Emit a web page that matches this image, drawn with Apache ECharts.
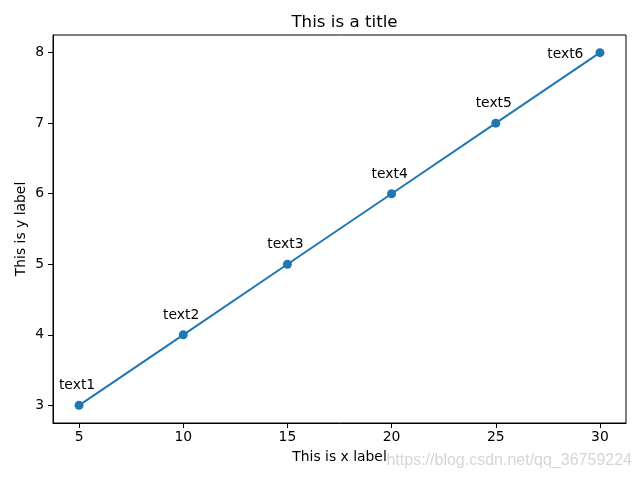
<!DOCTYPE html>
<html>
<head>
<meta charset="utf-8">
<script src="https://cdn.jsdelivr.net/npm/echarts@6/dist/echarts.min.js"></script>
<style>html,body{margin:0;padding:0;background:#fff}#c{width:640px;height:480px}</style>
</head>
<body>
<div id="c"></div>
<script>
var xValues = [5, 10, 15, 20, 25, 30];
var yValues = [3, 4, 5, 6, 7, 8];
var pointLabels = ['text1', 'text2', 'text3', 'text4', 'text5', 'text6'];
var xTicks = [5, 10, 15, 20, 25, 30];
var yTicks = [3, 4, 5, 6, 7, 8];
var titleText = 'This is a title';
var xName = 'This is x label';
var yName = 'This is y label';
var watermark = 'https://blog.csdn.net/qq_36759224';

var FONT = 'DejaVu Sans';
var data = xValues.map(function (x, i) {
  var last = i === xValues.length - 1;
  return {
    value: [x, yValues[i]],
    label: last
      ? { show: true, formatter: pointLabels[i], position: 'left', distance: 12, offset: [0, 2] }
      : { show: true, formatter: pointLabels[i], position: 'top', distance: 9, offset: [-2, 1] }
  };
});

var chart = echarts.init(document.getElementById('c'), null, { renderer: 'canvas' });
chart.setOption({
  animation: false,
  backgroundColor: '#fff',
  title: {
    text: titleText, left: 339.5, top: 9, textAlign: 'center',
    textStyle: { fontFamily: FONT, fontSize: 16.7, fontWeight: 'normal', color: '#000' }
  },
  grid: { left: 53, right: 14, top: 35, bottom: 57, show: true, borderColor: '#000', borderWidth: 1, backgroundColor: 'transparent' },
  xAxis: {
    type: 'value', min: 3.75, max: 31.25,
    name: xName, nameLocation: 'middle', nameGap: 27, nameMoveOverlap: false,
    nameTextStyle: { fontFamily: FONT, fontSize: 13.9, color: '#000' },
    axisLine: { show: true, lineStyle: { color: '#000', width: 1 } },
    axisTick: { show: true, length: 5, lineStyle: { color: '#000' }, customValues: xTicks },
    axisLabel: { fontFamily: FONT, fontSize: 13.9, color: '#000', margin: 7, customValues: xTicks },
    splitLine: { show: false }
  },
  yAxis: {
    type: 'value', min: 2.75, max: 8.25,
    name: yName, nameLocation: 'middle', nameGap: 25, nameMoveOverlap: false,
    nameTextStyle: { fontFamily: FONT, fontSize: 13.9, color: '#000' },
    axisLine: { show: true, lineStyle: { color: '#000', width: 1 } },
    axisTick: { show: true, length: 5, lineStyle: { color: '#000' }, customValues: yTicks },
    axisLabel: { fontFamily: FONT, fontSize: 13.9, color: '#000', margin: 9, customValues: yTicks },
    splitLine: { show: false }
  },
  series: [{
    type: 'line',
    data: data,
    symbol: 'circle',
    symbolSize: 9,
    itemStyle: { color: '#1f77b4' },
    lineStyle: { color: '#1f77b4', width: 2 },
    label: { fontFamily: FONT, fontSize: 13.9, color: '#000' }
  }],
  graphic: [{
    type: 'text', right: 8, top: 453,
    style: { text: watermark, fontFamily: 'Liberation Sans Narrow, Liberation Sans, Arial', fontSize: 16, fill: 'rgba(210,210,210,0.9)' }
  }]
});
</script>
</body>
</html>
